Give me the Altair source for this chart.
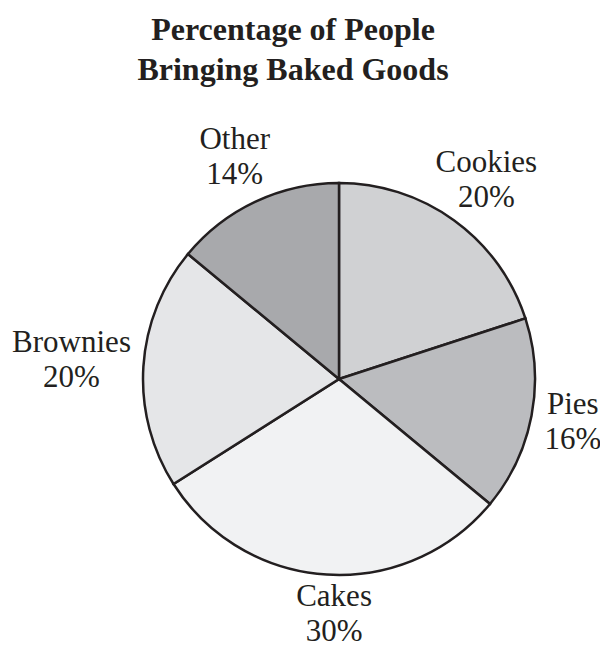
import altair as alt
import pandas as pd

categories = ["Cookies", "Pies", "Cakes", "Brownies", "Other"]
percents = [20, 16, 30, 20, 14]
colors = ["#d0d1d3", "#bbbcbf", "#f1f2f3", "#e5e6e8", "#a8a9ac"]
title_lines = ["Percentage of People", "Bringing Baked Goods"]

df = pd.DataFrame({"category": categories, "percent": percents, "order": list(range(len(categories)))})
df["label"] = df["category"] + "\n" + df["percent"].astype(str) + "%"

# label placement style: distance from the pie centre and small nudges
label_radius = {"Cookies": 249, "Pies": 238, "Cakes": 238, "Brownies": 268, "Other": 245}
label_nudge = {"Cookies": (1, 3), "Pies": (0, -1), "Cakes": (10, -2), "Brownies": (0, -2), "Other": (0, 0)}

base = alt.Chart(df).encode(
    theta=alt.Theta("percent:Q", stack=True),
    order=alt.Order("order:Q"),
)

arcs = base.mark_arc(outerRadius=196, stroke="#231f20", strokeWidth=2.5).encode(
    color=alt.Color("category:N", scale=alt.Scale(domain=categories, range=colors), legend=None)
)

# stacked angles computed once, then each label filtered with its own radius
stacked = alt.Chart(df).transform_stack(
    stack="percent", groupby=[], as_=["p0", "p1"], sort=[alt.SortField("order")]
).transform_calculate(mid="(datum.p0 + datum.p1) / 2")

layers = [arcs]
for cat in categories:
    ndx, ndy = label_nudge[cat]
    layers.append(
        stacked.mark_text(
            radius=label_radius[cat], font="Liberation Serif", fontSize=31, lineBreak="\n",
            lineHeight=35, dx=ndx, dy=-17.5 + ndy, color="#231f20", align="center", baseline="middle"
        ).encode(
            theta=alt.Theta("mid:Q", scale=alt.Scale(domain=[0, 100])),
            text="label:N",
        ).transform_filter(alt.datum.category == cat)
    )

chart = alt.layer(*layers).resolve_scale(theta="independent").properties(
    width=522, height=482,
    title=alt.TitleParams(
        title_lines, font="Liberation Serif", fontSize=32, fontWeight="bold",
        color="#231f20", anchor="middle", dx=-46, lineHeight=40, offset=37
    ),
    padding={"left": 70, "top": 130, "right": 0, "bottom": 29},
    autosize="none",
    background="white",
).configure_view(strokeWidth=0)

chart.save("out.html", embed_options={"renderer": "svg", "actions": False})
